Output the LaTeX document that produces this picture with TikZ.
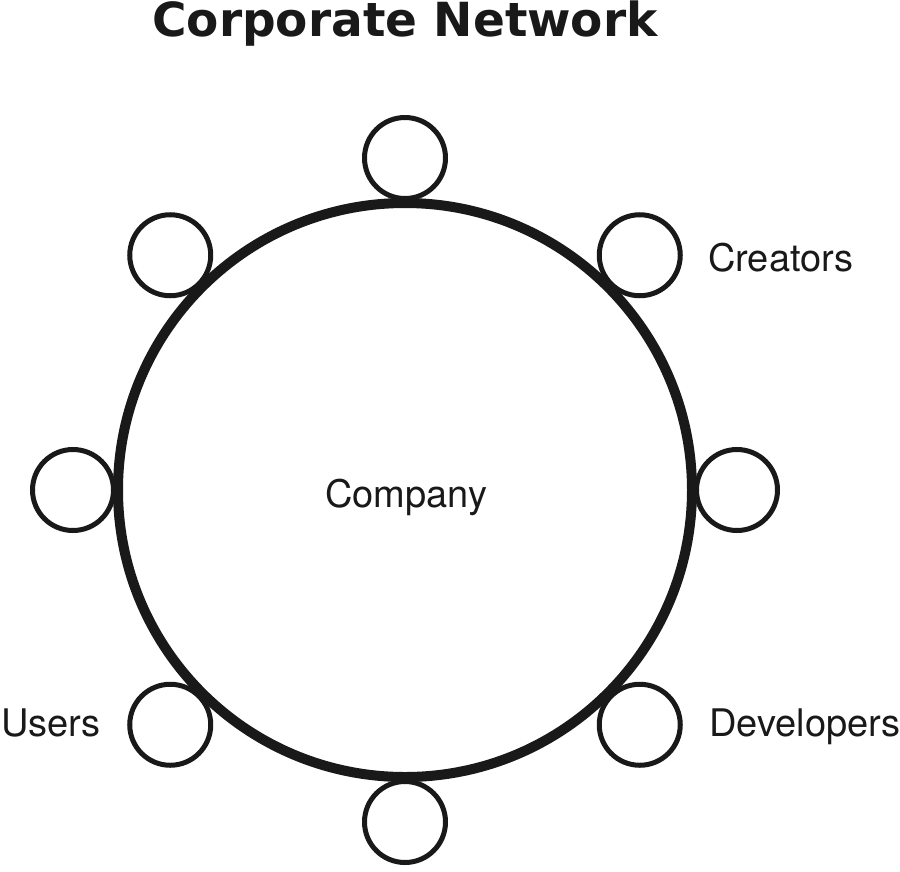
\documentclass[tikz,border=0pt]{standalone}
\usepackage{fontspec}
\usetikzlibrary{calc}
\setmainfont{TeX Gyre Heros}
\newfontfamily\titlefont{DejaVu Sans}
\begin{document}
\begin{tikzpicture}[x=1pt,y=-1pt,
  hub/.style={circle,draw=black!90,line width=10pt,minimum size=574pt,inner sep=0pt},
  sat/.style={circle,draw=black!90,line width=5pt,minimum size=81pt,inner sep=0pt},
  lbl/.style={anchor=base west,inner sep=0pt,font=\fontsize{38}{44}\selectfont,text=black!90}]
\useasboundingbox[fill=white] (0,0) rectangle (900,871);
\node[anchor=base,inner sep=0pt,font=\titlefont\bfseries\fontsize{47}{54}\selectfont,text=black!90] (title) at (405,36) {Corporate Network};
\node[hub] (company) at (405,490) {};
\node[lbl] (companylbl) at (325,507) {Company};
\foreach \ang/\nm in {90/top,45/tr,0/right,-45/br,-90/bottom,-135/bl,180/left,135/tl}{
  \node[sat] (\nm) at ($(company.center)+(\ang:332pt)$) {};
}
\node[lbl] (creators) at (708,271) {Creators};
\node[lbl] (developers) at (709,736) {Developers};
\node[lbl] (users) at (1,736) {Users};
\end{tikzpicture}
\end{document}
